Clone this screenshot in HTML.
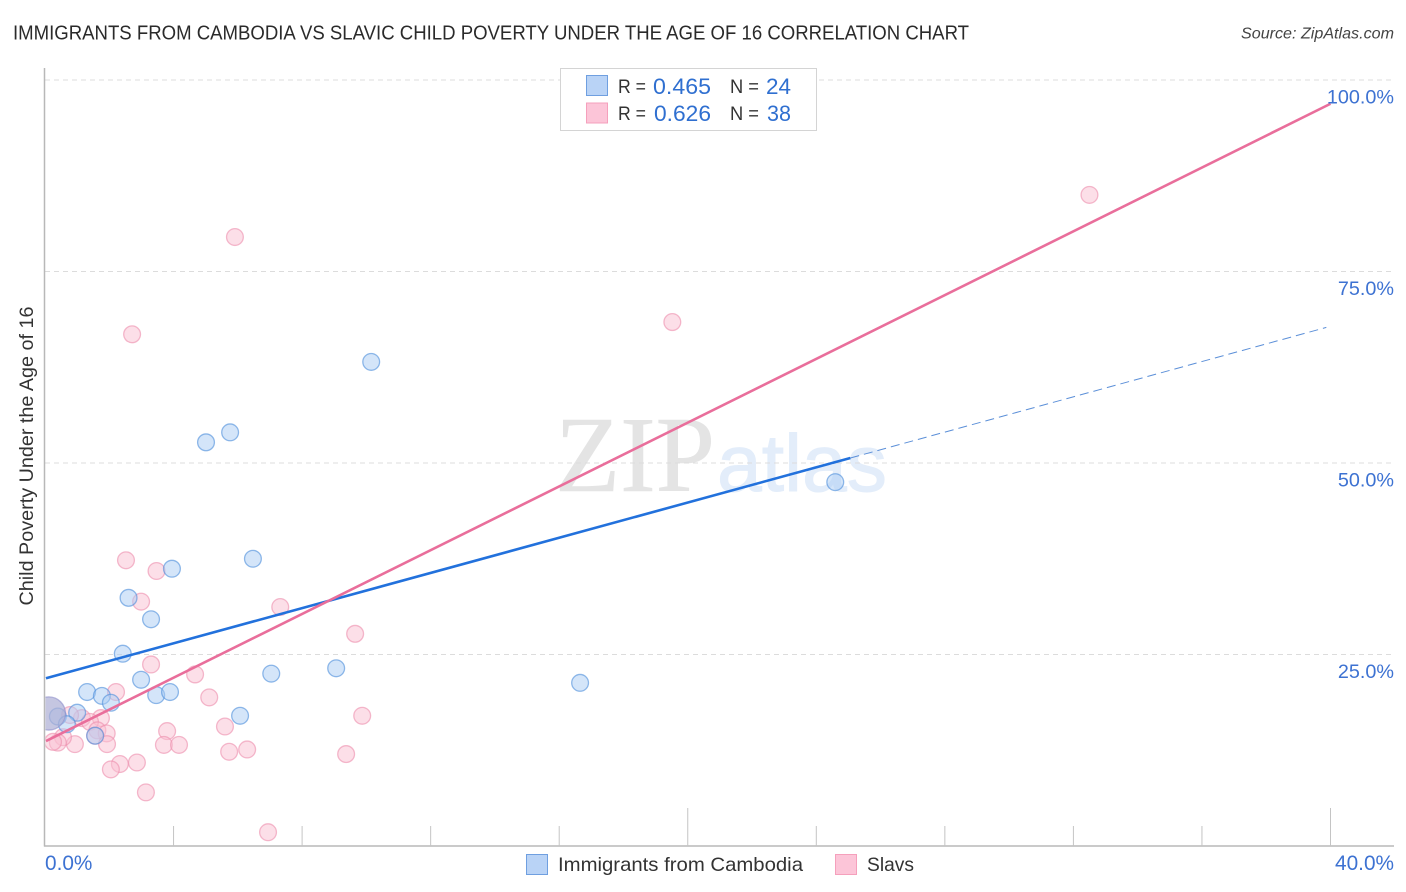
<!DOCTYPE html>
<html lang="en">
<head>
<meta charset="utf-8">
<title>Immigrants from Cambodia vs Slavic Child Poverty Correlation Chart</title>
<style>
html,body{margin:0;padding:0;background:#fff;width:1406px;height:892px;overflow:hidden}
svg{display:block}
text{font-family:"Liberation Sans",sans-serif}
</style>
</head>
<body>
<svg id="chart" xmlns="http://www.w3.org/2000/svg" width="1406" height="892" viewBox="0 0 1406 892">
  <rect x="0" y="0" width="1406" height="892" fill="#ffffff"/>
  <text x="13" y="39.5" font-size="20" fill="#2a2a2a" textLength="956" lengthAdjust="spacingAndGlyphs">IMMIGRANTS FROM CAMBODIA VS SLAVIC CHILD POVERTY UNDER THE AGE OF 16 CORRELATION CHART</text>
  <text x="1394" y="38.5" font-size="16" font-style="italic" fill="#444" text-anchor="end" textLength="153" lengthAdjust="spacingAndGlyphs">Source: ZipAtlas.com</text>
  <g id="watermark">
    <text x="555" y="491" font-size="108" fill="#e4e4e4" stroke="#e4e4e4" stroke-width="0.6" textLength="160" lengthAdjust="spacingAndGlyphs" style="font-family:'Liberation Serif',serif">ZIP</text>
    <text x="717" y="491" font-size="81" fill="#e3edfa" stroke="#e3edfa" stroke-width="1" textLength="170" lengthAdjust="spacingAndGlyphs">atlas</text>
  </g>
  <g id="grid"></g>
  <g id="axes"></g>
  <g id="points"></g>
  <g id="lines"></g>
  <g id="labels"></g>
  <text transform="translate(33,605.5) rotate(-90)" font-size="19" fill="#333" textLength="299" lengthAdjust="spacingAndGlyphs">Child Poverty Under the Age of 16</text>

  <g>
    <rect x="560.5" y="68.5" width="256" height="62" fill="#ffffff" stroke="#d4d4d4"/>
    <rect x="586.5" y="75.5" width="21" height="20" fill="#b9d3f6" stroke="#6f9fe0"/>
    <rect x="586.5" y="103" width="21" height="20" fill="#fcc5d8" stroke="#f5a0bc"/>
    <text x="618" y="93" font-size="19" fill="#333" textLength="28" lengthAdjust="spacingAndGlyphs">R =</text>
    <text x="653" y="94" font-size="22" fill="#2f6fd0" textLength="58" lengthAdjust="spacingAndGlyphs">0.465</text>
    <text x="730" y="93" font-size="19" fill="#333" textLength="29" lengthAdjust="spacingAndGlyphs">N =</text>
    <text x="766" y="94" font-size="22" fill="#2f6fd0" textLength="25" lengthAdjust="spacingAndGlyphs">24</text>
    <text x="618" y="120" font-size="19" fill="#333" textLength="28" lengthAdjust="spacingAndGlyphs">R =</text>
    <text x="654" y="121" font-size="22" fill="#2f6fd0" textLength="57" lengthAdjust="spacingAndGlyphs">0.626</text>
    <text x="730" y="120" font-size="19" fill="#333" textLength="29" lengthAdjust="spacingAndGlyphs">N =</text>
    <text x="767" y="121" font-size="22" fill="#2f6fd0" textLength="24" lengthAdjust="spacingAndGlyphs">38</text>
  </g>

  <g>
    <rect x="526.5" y="854.5" width="21" height="20" fill="#b9d3f6" stroke="#6f9fe0"/>
    <text x="558" y="871" font-size="19.5" fill="#333" textLength="245" lengthAdjust="spacingAndGlyphs">Immigrants from Cambodia</text>
    <rect x="835.5" y="854.5" width="21" height="20" fill="#fcc5d8" stroke="#f5a0bc"/>
    <text x="867" y="871" font-size="19.5" fill="#333" textLength="47" lengthAdjust="spacingAndGlyphs">Slavs</text>
  </g>
</svg>
<script>
// ---- chart data (percent units) ----
const yTickValues = [25, 50, 75, 100];
const yTickLabels = ["25.0%", "50.0%", "75.0%", "100.0%"];
const xTickValues = [4, 8, 12, 16, 20, 24, 28, 32, 36, 40];
const xMajorTicks = [20, 40];
const xEndValues = [0, 40];
const xEndLabels = ["0.0%", "40.0%"];

const cambodiaX = [10.15, 5.76, 5.01, 24.59, 16.65, 6.47, 3.95, 2.60, 3.30, 2.42, 2.99, 3.46, 3.89, 1.31, 1.77, 2.05, 7.04, 9.06, 6.07, 1.00, 0.40, 0.68, 1.56, 0.12];
const cambodiaY = [63.2, 54.0, 52.7, 47.5, 21.3, 37.5, 36.2, 32.4, 29.6, 25.1, 21.7, 19.7, 20.1, 20.1, 19.6, 18.7, 22.5, 23.2, 17.0, 17.4, 16.9, 15.9, 14.4, 17.3];
const cambodiaWeight = [1, 1, 1, 1, 1, 1, 1, 1, 1, 1, 1, 1, 1, 1, 1, 1, 1, 1, 1, 1, 1, 1, 1, 3.9];

const slavsX = [5.91, 2.71, 19.52, 32.50, 2.52, 3.47, 2.99, 7.32, 9.65, 3.30, 4.67, 5.11, 2.21, 1.74, 1.15, 0.78, 1.40, 1.63, 1.92, 1.56, 1.93, 0.93, 0.56, 0.40, 0.25, 3.80, 3.70, 4.17, 5.60, 5.73, 6.29, 9.37, 9.87, 2.86, 2.33, 2.05, 3.14, 6.94];
const slavsY = [79.5, 66.8, 68.4, 85.0, 37.3, 35.9, 31.9, 31.2, 27.7, 23.7, 22.4, 19.4, 20.1, 16.7, 16.7, 17.1, 16.2, 15.1, 14.7, 14.4, 13.3, 13.3, 14.2, 13.5, 13.6, 15.0, 13.2, 13.2, 15.6, 12.3, 12.6, 12.0, 17.0, 10.9, 10.7, 10.0, 7.0, 1.8];

const cambodiaFitX = [0.03, 25.06];
const cambodiaFitY = [21.9, 50.65];
const cambodiaExtX = [25.06, 39.87];
const cambodiaExtY = [50.65, 67.7];
const slavsFitX = [0.03, 40];
const slavsFitY = [13.7, 96.9];

// ---- axis functions ----
const NS = "http://www.w3.org/2000/svg";
const sx = v => 45 + v * (1330.5 - 45) / 40;
const sy = v => 846 - v * (846 - 80) / 100;
const sr = w => 8.4 * Math.sqrt(w);

function mk(parent, tag, attrs) {
  const el = document.createElementNS(NS, tag);
  for (const k in attrs) el.setAttribute(k, attrs[k]);
  parent.appendChild(el);
  return el;
}

const grid = document.getElementById("grid");
yTickValues.forEach(v => {
  const ln = mk(grid, "line", {x1: 45, x2: 1394, y1: sy(v), y2: sy(v), stroke: "#dcdcdc", "stroke-width": 1, "stroke-dasharray": "5 4"});
  
  
});

const axes = document.getElementById("axes");
const yAxis = mk(axes, "line", {x1: 44.5, x2: 44.5, y1: 68, y2: 846.5, stroke: "#b8b8b8", "stroke-width": 1.5});


const xAxis = mk(axes, "line", {x1: 44, x2: 1394, y1: 846, y2: 846, stroke: "#b8b8b8", "stroke-width": 1.5});


xTickValues.forEach(v => {
  const top = xMajorTicks.includes(v) ? 808 : 826;
  const t = mk(axes, "line", {x1: sx(v), x2: sx(v), y1: top, y2: 846, stroke: "#c4c4c4", "stroke-width": 1});
  
  
});

const defs = mk(document.getElementById("chart"), "defs", {});
const clip = mk(defs, "clipPath", {id: "plot-clip"});
mk(clip, "rect", {x: 45.5, y: 60, width: 1350, height: 786});

const pts = document.getElementById("points");
function drawSeries(xs, ys, weights, fill, stroke, name) {
  xs.forEach((x, i) => {
    const w = weights ? weights[i] : 1;
    const c = mk(pts, "circle", {cx: sx(x), cy: sy(ys[i]), r: sr(w), fill: fill, "fill-opacity": 0.5, stroke: stroke, "stroke-opacity": 0.62, "stroke-width": 1.3, "clip-path": "url(#plot-clip)"});
    if (w > 1) {
      c.setAttribute("fill", "#aeb0d6");
      c.setAttribute("stroke", "#8f8fcb");
      c.setAttribute("fill-opacity", 0.72);
    }
    
    
  });
}
drawSeries(slavsX, slavsY, null, "#f9bfd2", "#ee8fae", "slavs-point");
drawSeries(cambodiaX, cambodiaY, cambodiaWeight, "#a9cbf3", "#4f8fdc", "cambodia-point");

const lines = document.getElementById("lines");
const ext = mk(lines, "line", {x1: sx(cambodiaExtX[0]), y1: sy(cambodiaExtY[0]), x2: sx(cambodiaExtX[1]), y2: sy(cambodiaExtY[1]), stroke: "#5b8fd8", "stroke-width": 1, "stroke-dasharray": "9 5"});


const fitA = mk(lines, "line", {x1: sx(cambodiaFitX[0]), y1: sy(cambodiaFitY[0]), x2: sx(cambodiaFitX[1]), y2: sy(cambodiaFitY[1]), stroke: "#2271dc", "stroke-width": 2.6});


const fitB = mk(lines, "line", {x1: sx(slavsFitX[0]), y1: sy(slavsFitY[0]), x2: sx(slavsFitX[1]), y2: sy(slavsFitY[1]), stroke: "#e96e9b", "stroke-width": 2.6});



const labels = document.getElementById("labels");
yTickValues.forEach((v, i) => {
  const t = mk(labels, "text", {x: 1394, y: sy(v) + 23.5, "font-size": 19.8, fill: "#3d72d2", "text-anchor": "end"});
  t.textContent = yTickLabels[i];
  
  
});
xEndValues.forEach((v, i) => {
  const t = mk(labels, "text", {x: i === 0 ? sx(v) : 1394, y: 870, "font-size": 20.8, fill: "#3d72d2", "text-anchor": i === 0 ? "start" : "end"});
  t.textContent = xEndLabels[i];
  
  
});
</script>
</body>
</html>
